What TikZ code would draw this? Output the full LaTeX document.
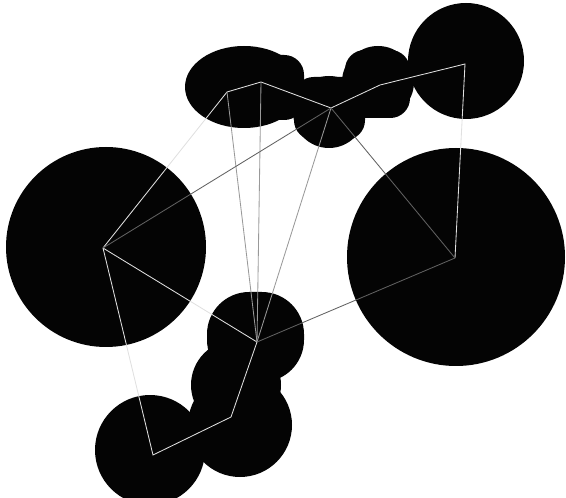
\documentclass[tikz,border=0pt]{standalone}
\usepackage{xcolor}
\usepackage{tikz}
\definecolor{blobcolor}{RGB}{4, 4, 4}
\usetikzlibrary{calc}

\begin{document}
\begin{tikzpicture}[
    x=0.025cm, y=0.025cm,
    blob/.style={fill=blobcolor},
    blobbox/.style={fill=blobcolor, rounded corners=14},
    brightedge/.style={draw=black!12, line width=0.6pt},
    midedge/.style={draw=black!40, line width=0.6pt},
    dimedge/.style={draw=black!62, line width=0.6pt}
]
    \useasboundingbox (0,0) rectangle (566,-498);
    \clip (0,0) rectangle (566,-498);

    % skeleton points
    \coordinate (L)  at (103,-248);
    \coordinate (R)  at (455,-258);
    \coordinate (T1) at (227,-92);
    \coordinate (T2) at (261,-82);
    \coordinate (T3) at (331,-108);
    \coordinate (T4) at (380,-85);
    \coordinate (T5) at (465,-64);
    \coordinate (H)  at (257,-342);
    \coordinate (B1) at (231,-417);
    \coordinate (B2) at (153,-455);

    % big blobs
    \fill[blob] (106,-247) circle (100);
    \fill[blob] (456,-257) circle (109);

    % top chain
    \fill[blob] (466,-61) circle (58);
    \fill[blob] (378,-82) circle (36);
    \fill[blobbox] (345,-50) rectangle (410,-118);
    \fill[blob] (329,-112) circle (36);
    \fill[blobbox] (294,-77) rectangle (365,-140);
    \fill[blob] (244,-87) ellipse (59 and 41);
    \fill[blobbox] (200,-55) rectangle (304,-120);

    % bottom chain
    \fill[blobbox, rounded corners=30] (207,-292) rectangle (304,-382);
    \fill[blob] (236,-385) circle (45);
    \fill[blob] (240,-425) circle (52);
    \fill[blob] (150,-450) circle (55);

    % skeleton edges
    \draw[brightedge] (L) -- (T1) -- (T2) -- (T3) -- (T4) -- (T5) -- (R);
    \draw[brightedge] (L) -- (B2) -- (B1) -- (H) -- (L);
    \draw[midedge] (H) -- (T1);
    \draw[midedge] (H) -- (T2);
    \draw[midedge] (H) -- (T3);
    \draw[dimedge] (L) -- (T3) -- (R);
    \draw[dimedge] (H) -- (R);
\end{tikzpicture}
\end{document}
